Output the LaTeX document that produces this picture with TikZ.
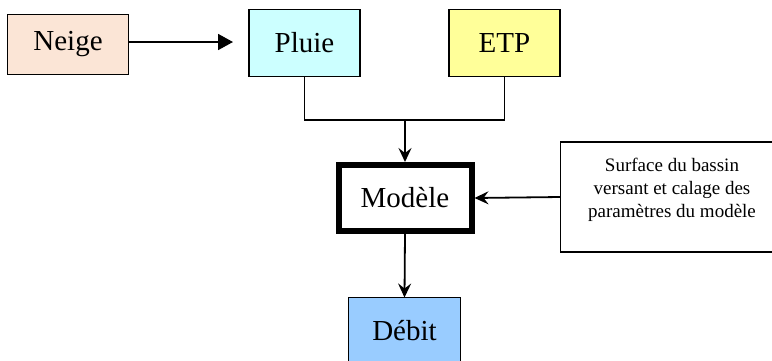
\documentclass[tikz,border=0pt]{standalone}
\usepackage{fontspec}
\setmainfont{Liberation Serif}
\usetikzlibrary{arrows.meta}
\definecolor{neigec}{HTML}{FBE5D6}
\definecolor{pluiec}{HTML}{CCFFFF}
\definecolor{etpc}{HTML}{FFFF99}
\definecolor{debitc}{HTML}{99CCFF}
\tikzset{
  box/.style={draw=black, line width=1.8pt, inner sep=0pt, outer sep=0pt, rectangle,
    font=\fontsize{29}{34}\selectfont},
  conn/.style={line width=1.8pt, draw=black},
  arr/.style={conn, -{Stealth[length=14pt,width=13pt,inset=5pt]}},
  tri/.style={conn, -{Triangle[length=15pt,width=16pt]}},
}
\begin{document}
\begin{tikzpicture}[x=1pt,y=-1pt]
\clip (0,0) rectangle (772,360);
\fill[white] (0,0) rectangle (772,360);
\node[box, fill=neigec, minimum width=121pt, minimum height=60pt] (neige) at (68,44.5) {Neige};
\node[box, fill=pluiec, minimum width=111pt, minimum height=67pt] (pluie) at (304.5,43) {Pluie};
\node[box, fill=etpc, minimum width=111pt, minimum height=67pt] (etp) at (504.5,43) {ETP};
\node[box, line width=6pt, outer sep=3pt, fill=white, minimum width=133pt, minimum height=66pt] (modele) at (405,198) {Modèle};
\node[box, fill=debitc, minimum width=112pt, minimum height=66pt] (debit) at (404.5,330.5) {Débit};
\node[box, fill=white, minimum width=222pt, minimum height=110pt] (surf) at (671.5,197) {};
\node[font=\fontsize{19}{23}\selectfont, align=center, inner sep=0pt] (surftext) at (672,190)
  {Surface du bassin\\versant et calage des\\paramètres du modèle};
\coordinate (join) at (405,120);
\coordinate (neigeend) at (233,42);
\draw[tri] (neige.east |- neigeend) -- (neigeend);
\draw[conn] (pluie.south) |- (join) -| (etp.south);
\draw[arr] (join) -- (modele.north);
\draw[arr] (surf.west) -- (modele.east);
\draw[arr] (modele.south) -- (debit.north);
\end{tikzpicture}
\end{document}
